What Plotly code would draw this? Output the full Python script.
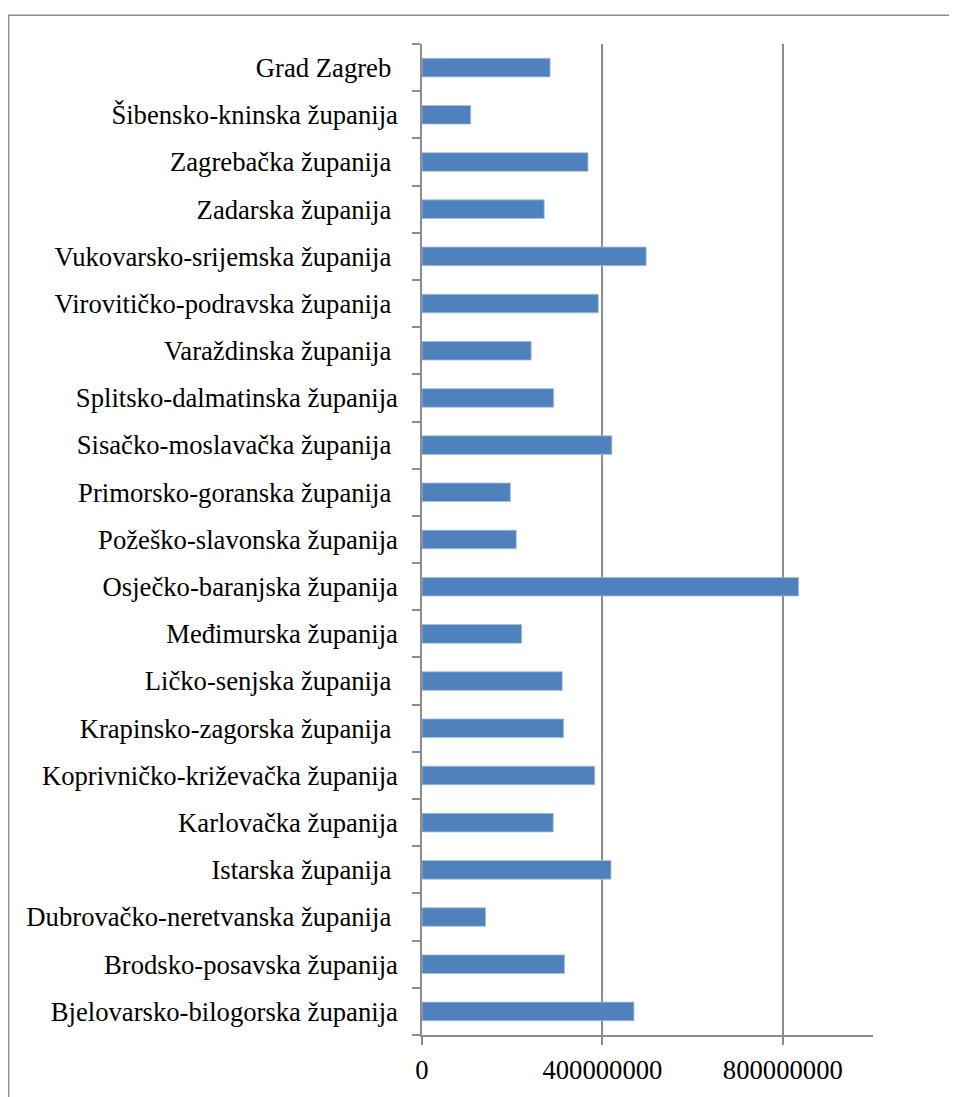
import plotly.graph_objects as go

categories = [
    "Bjelovarsko-bilogorska županija",
    "Brodsko-posavska županija",
    "Dubrovačko-neretvanska županija\u00a0",
    "Istarska županija\u00a0",
    "Karlovačka županija",
    "Koprivničko-križevačka županija",
    "Krapinsko-zagorska županija\u00a0",
    "Ličko-senjska županija\u00a0",
    "Međimurska županija",
    "Osječko-baranjska županija",
    "Požeško-slavonska županija",
    "Primorsko-goranska županija\u00a0",
    "Sisačko-moslavačka županija\u00a0",
    "Splitsko-dalmatinska županija",
    "Varaždinska županija\u00a0",
    "Virovitičko-podravska županija\u00a0",
    "Vukovarsko-srijemska županija\u00a0",
    "Zadarska županija\u00a0",
    "Zagrebačka županija\u00a0",
    "Šibensko-kninska županija",
    "Grad Zagreb\u00a0",
]

values = [
    470000000, 316000000, 141000000, 419000000, 291000000, 383000000,
    314000000, 311000000, 221000000, 835000000, 209000000, 196000000,
    421000000, 292000000, 242000000, 391000000, 497000000, 271000000,
    368000000, 108000000, 284000000,
]

x_tickvals = [0, 400000000, 800000000]
x_ticktext = ["0", "400000000", "800000000"]

FONT = "Liberation Serif, Times New Roman, serif"
GRAY = "#8C8C8C"

fig = go.Figure(
    go.Bar(
        x=values,
        y=categories,
        orientation="h",
        marker=dict(color="#4F81BD", line=dict(color="#A7C0E2", width=0.8)),
    )
)

# page body has an 8px offset
OFF = 8
W, H = 957 - OFF, 1097 - OFF
L, T = 422 - OFF, 44 - OFF
R = W - (872.6 - OFF)
B = H - (1041 - OFF)
pw, ph = W - L - R, H - T - B

fig.update_layout(
    width=W,
    height=H,
    margin=dict(l=L, r=R, t=T, b=B, pad=0),
    paper_bgcolor="white",
    plot_bgcolor="white",
    bargap=0.606,
    showlegend=False,
    font=dict(family=FONT, size=26.67, color="black"),
    xaxis=dict(
        range=[0, 1000000000],
        tickvals=x_tickvals,
        ticktext=x_ticktext,
        showgrid=True,
        gridcolor=GRAY,
        gridwidth=1.5,
        zeroline=False,
        showline=True,
        linecolor=GRAY,
        linewidth=1.5,
        ticks="outside",
        ticklen=8,
        tickwidth=1.5,
        tickcolor=GRAY,
        ticklabelstandoff=2,
    ),
    yaxis=dict(
        type="category",
        categoryorder="array",
        categoryarray=categories,
        showgrid=False,
        zeroline=False,
        showline=True,
        linecolor=GRAY,
        linewidth=1.5,
        ticks="outside",
        tickson="boundaries",
        ticklen=8,
        tickwidth=1.5,
        tickcolor=GRAY,
        ticklabelstandoff=17,
    ),
    shapes=[
        dict(
            type="rect",
            xref="paper",
            yref="paper",
            x0=(9 - OFF - L) / pw,
            x1=(W + 20 - L) / pw,
            y0=-(H + 20 - T - ph) / ph,
            y1=(ph + T - (15 - OFF)) / ph,
            line=dict(color=GRAY, width=1.5),
            fillcolor="rgba(0,0,0,0)",
            layer="below",
        )
    ],
)

fig.write_html("out.html")
